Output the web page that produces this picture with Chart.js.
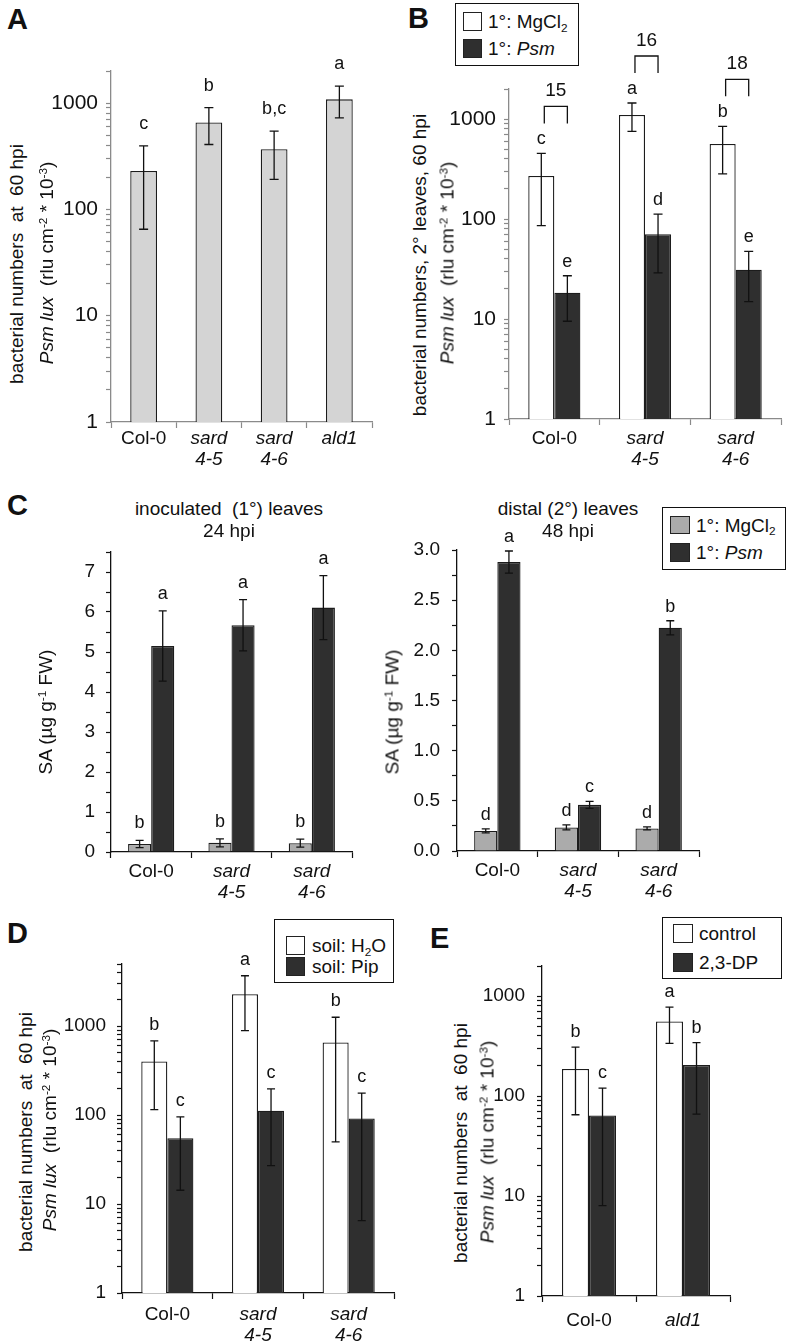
<!DOCTYPE html>
<html><head><meta charset="utf-8">
<script src="https://cdn.jsdelivr.net/npm/chart.js@4.4.1/dist/chart.umd.min.js"></script>
<style>
html,body{margin:0;padding:0;background:#fff;}
body{position:relative;width:789px;height:1344px;overflow:hidden;}
canvas{position:absolute;}
.t{position:absolute;white-space:nowrap;line-height:1;font-family:"Liberation Sans",Arial,Helvetica,sans-serif;color:#111;}
.t sup{font-size:0.62em;line-height:0;vertical-align:baseline;position:relative;top:-0.55em;}
.t sub{font-size:0.62em;line-height:0;vertical-align:baseline;position:relative;top:0.3em;}
.lg{position:absolute;border:1.5px solid #111;box-sizing:border-box;background:#fff;}
.sw{position:absolute;border:1.2px solid #222;box-sizing:border-box;}
</style></head>
<body>
<script>
// ---------------- DATA ----------------
const catsA = ['Col-0', ['sard','4-5'], ['sard','4-6'], 'ald1'];
const valsA = [230, 655, 368, 1083];
const sdA = [165, 248, 177, 358];
const lettersA = ['c','b','b,c','a'];

const catsB = ['Col-0', ['sard','4-5'], ['sard','4-6']];
const valsBMg = [270, 1100, 565];
const sdBMg = [184, 348, 282];
const lettersBMg = ['c','a','b'];
const valsBPsm = [18.3, 70.5, 31.2];
const sdBPsm = [8.8, 41.5, 16.3];
const lettersBPsm = ['e','d','e'];
const foldB = ['15','16','18'];

const catsC = ['Col-0', ['sard','4-5'], ['sard','4-6']];
const valsC1Mg = [0.2, 0.23, 0.22];
const sdC1Mg = [0.09, 0.1, 0.1];
const lettersC1Mg = ['b','b','b'];
const valsC1Psm = [5.15, 5.67, 6.11];
const sdC1Psm = [0.88, 0.64, 0.8];
const lettersC1Psm = ['a','a','a'];
const valsC2Mg = [0.2, 0.235, 0.225];
const sdC2Mg = [0.02, 0.025, 0.015];
const lettersC2Mg = ['d','d','d'];
const valsC2Psm = [2.88, 0.46, 2.225];
const sdC2Psm = [0.11, 0.035, 0.07];
const lettersC2Psm = ['a','c','b'];

const catsD = ['Col-0', ['sard','4-5'], ['sard','4-6']];
const valsDH2O = [400, 2290, 655];
const sdDH2O = [285, 1398, 605];
const lettersDH2O = ['b','a','b'];
const valsDPip = [55, 112, 91.5];
const sdDPip = [40.7, 85, 85];
const lettersDPip = ['c','c','c'];

const catsE = ['Col-0', 'ald1'];
const valsECtrl = [187, 557];
const sdECtrl = [122, 220];
const lettersECtrl = ['b','a'];
const valsEDP = [64, 204];
const sdEDP = [56, 138];
const lettersEDP = ['c','b'];

const logTickLabels = ['1','10','100','1000'];
const linTickLabelsC1 = ['0','1','2','3','4','5','6','7'];
const linTickLabelsC2 = ['0.0','0.5','1.0','1.5','2.0','2.5','3.0'];

// ---------------- STYLE ----------------
const FONT = '"Liberation Sans", Arial, Helvetica, sans-serif';
const DARK = '#2f2f2f', WHITE = '#ffffff', LIGHT = '#d4d4d4', MID = '#ababab';

function addText(html, x, base, size, opt) {
  opt = opt || {};
  const d = document.createElement('div');
  d.className = 't'; d.innerHTML = html;
  d.style.fontSize = size + 'px';
  d.style.top = (base - 0.8465 * size) + 'px';
  d.style.left = x + 'px';
  if (opt.align === 'center') d.style.transform = 'translateX(-50%)';
  if (opt.bold) d.style.fontWeight = 'bold';
  document.body.appendChild(d);
}
function addVText(html, cx, cy, size) {
  const d = document.createElement('div');
  d.className = 't'; d.innerHTML = html;
  d.style.fontSize = size + 'px';
  d.style.left = cx + 'px'; d.style.top = cy + 'px';
  d.style.transform = 'translate(-50%,-50%) rotate(-90deg)';
  document.body.appendChild(d);
}
function addLegend(box, items) {
  const b = document.createElement('div');
  b.className = 'lg';
  b.style.left = box[0] + 'px'; b.style.top = box[1] + 'px';
  b.style.width = (box[2] - box[0]) + 'px'; b.style.height = (box[3] - box[1]) + 'px';
  document.body.appendChild(b);
  items.forEach(it => {
    const s = document.createElement('div');
    s.className = 'sw';
    s.style.left = it.sw[0] + 'px'; s.style.top = it.sw[1] + 'px';
    s.style.width = it.sw[2] + 'px'; s.style.height = it.sw[3] + 'px';
    s.style.background = it.color;
    document.body.appendChild(s);
    addText(it.html, it.tx, it.sw[1] + it.sw[3] / 2 + 7, 19);
  });
}

function logTicks(max) {
  const out = [];
  for (let p = 1; p <= max; p *= 10) {
    for (let m = 1; m <= 9; m++) { const v = m * p; if (v <= max) out.push(v); }
  }
  return out;
}

const marksPlugin = {
  id: 'marks',
  afterDatasetsDraw(chart) {
    const o = chart.options.plugins.marks;
    const ctx = chart.ctx, ys = chart.scales.y;
    ctx.save();
    ctx.strokeStyle = '#111'; ctx.fillStyle = '#111'; ctx.lineWidth = 1.3;
    ctx.font = '18px ' + FONT; ctx.textAlign = 'center'; ctx.textBaseline = 'alphabetic';
    const tops = [];
    chart.data.datasets.forEach((ds, i) => {
      const meta = chart.getDatasetMeta(i);
      tops[i] = [];
      meta.data.forEach((el, j) => {
        const v = ds.data[j], e = ds.errors[j];
        const top = ys.getPixelForValue(v + e);
        const bot = ys.getPixelForValue(Math.max(v - e, ys.min));
        tops[i][j] = top;
        ctx.beginPath();
        ctx.moveTo(el.x, top); ctx.lineTo(el.x, bot);
        ctx.moveTo(el.x - o.cap, top); ctx.lineTo(el.x + o.cap, top);
        ctx.moveTo(el.x - o.cap, bot); ctx.lineTo(el.x + o.cap, bot);
        ctx.stroke();
        ctx.fillText(ds.letters[j], el.x, top - o.gap);
      });
    });
    if (o.brackets) {
      const m0 = chart.getDatasetMeta(0), m1 = chart.getDatasetMeta(1);
      o.brackets.forEach((lab, j) => {
        const xl = m0.data[j].x + 3, xr = m1.data[j].x;
        const yb = tops[0][j] - 30, yt = yb - 17;
        ctx.beginPath();
        ctx.moveTo(xl, yb); ctx.lineTo(xl, yt); ctx.lineTo(xr, yt); ctx.lineTo(xr, yb);
        ctx.stroke();
        ctx.font = '19px ' + FONT;
        ctx.fillText(lab, (xl + xr) / 2, yt - 10);
      });
    }
    ctx.restore();
  }
};

function makePanel(p) {
  const yW = 70, xH = 62, padR = 12;
  const c = document.createElement('canvas');
  const W = p.x1 - p.x0 + yW + padR, H = p.y1 - p.y0 + p.padTop + xH;
  c.width = W; c.height = H;
  c.style.left = (p.x0 - yW) + 'px'; c.style.top = (p.y0 - p.padTop) + 'px';
  c.style.width = W + 'px'; c.style.height = H + 'px';
  document.body.appendChild(c);
  let yScale;
  const axisCommon = {
    grid: { drawOnChartArea: false, drawTicks: true, tickLength: 5, color: p.axis, tickColor: p.axis, tickWidth: 1.2 },
    border: { display: true, color: p.axis, width: 1.3 },
    afterFit: s => { s.width = yW; }
  };
  if (p.log) {
    yScale = Object.assign({}, axisCommon, {
      type: 'logarithmic', min: 1, max: p.max,
      ticks: { autoSkip: false, padding: p.yPad, color: '#111', font: { family: FONT, size: p.yFont },
        callback: v => logTickLabels.includes(String(v)) ? String(v) : '' },
      afterBuildTicks: s => { s.ticks = logTicks(p.max).map(v => ({ value: v })); }
    });
  } else {
    yScale = Object.assign({}, axisCommon, {
      type: 'linear', min: 0, max: p.max,
      ticks: { autoSkip: false, stepSize: p.step, padding: p.yPad, color: '#111', font: { family: FONT, size: p.yFont },
        callback: v => { const s = v.toFixed(p.dec); return (p.labels.includes(s) && Math.abs(parseFloat(s) - v) < 1e-9) ? s : ''; } }
    });
  }
  new Chart(c, {
    type: 'bar',
    data: { labels: p.cats, datasets: p.datasets.map(d => ({
      data: d.data, errors: d.errors, letters: d.letters,
      backgroundColor: d.color, borderColor: '#1c1c1c', borderWidth: 1.3,
      categoryPercentage: p.catPct, barPercentage: p.barPct
    })) },
    options: {
      responsive: false, animation: false, devicePixelRatio: 1,
      layout: { padding: { top: p.padTop, right: padR, left: 0, bottom: 0 } },
      plugins: { legend: { display: false }, tooltip: { enabled: false },
        marks: { cap: p.cap, gap: p.gap, brackets: p.brackets } },
      scales: {
        x: {
          type: 'category', offset: true,
          grid: { offset: true, drawOnChartArea: false, drawTicks: true, tickLength: 6, color: p.axis, tickColor: p.axis, tickWidth: 1.2 },
          border: { display: true, color: p.axis, width: 1.3 },
          ticks: { autoSkip: false, maxRotation: 0, padding: p.xPad, color: '#111',
            font: ctx => ({ family: FONT, size: 19, lineHeight: 1.1,
              style: (p.cats[ctx.index] === 'Col-0') ? 'normal' : 'italic' }) },
          afterFit: s => { s.height = xH; }
        },
        y: yScale
      }
    },
    plugins: [marksPlugin]
  });
}

// ---------------- PANELS ----------------
makePanel({ x0: 111, x1: 372, y0: 71, y1: 422, padTop: 50, log: true, max: 2000, axis: '#8a8a8a',
  yFont: 21, yPad: 8, xPad: 0, cap: 4.5, gap: 17, catPct: 1, barPct: 0.41, cats: catsA,
  datasets: [{ data: valsA, errors: sdA, letters: lettersA, color: LIGHT }] });

makePanel({ x0: 509, x1: 781, y0: 89, y1: 419, padTop: 89, log: true, max: 2000, axis: '#8a8a8a',
  yFont: 21, yPad: 8, xPad: 3, cap: 4.5, gap: 9, catPct: 0.575, barPct: 1, cats: catsB, brackets: foldB,
  datasets: [{ data: valsBMg, errors: sdBMg, letters: lettersBMg, color: WHITE },
             { data: valsBPsm, errors: sdBPsm, letters: lettersBPsm, color: DARK }] });

makePanel({ x0: 111, x1: 352, y0: 552, y1: 852, padTop: 30, log: false, max: 7.5, step: 0.5, dec: 0, labels: linTickLabelsC1,
  axis: '#111', yFont: 19, yPad: 11, xPad: 3, cap: 4, gap: 12, catPct: 0.575, barPct: 1, cats: catsC,
  datasets: [{ data: valsC1Mg, errors: sdC1Mg, letters: lettersC1Mg, color: MID },
             { data: valsC1Psm, errors: sdC1Psm, letters: lettersC1Psm, color: DARK }] });

makePanel({ x0: 457, x1: 699, y0: 550, y1: 851, padTop: 30, log: false, max: 3, step: 0.25, dec: 1, labels: linTickLabelsC2,
  axis: '#111', yFont: 19, yPad: 12, xPad: 3, cap: 4, gap: 9, catPct: 0.575, barPct: 1, cats: catsC,
  datasets: [{ data: valsC2Mg, errors: sdC2Mg, letters: lettersC2Mg, color: MID },
             { data: valsC2Psm, errors: sdC2Psm, letters: lettersC2Psm, color: DARK }] });

makePanel({ x0: 122, x1: 394, y0: 964, y1: 1293, padTop: 50, log: true, max: 5000, axis: '#111',
  yFont: 19, yPad: 11, xPad: 5, cap: 4, gap: 11, catPct: 0.575, barPct: 1, cats: catsD,
  datasets: [{ data: valsDH2O, errors: sdDH2O, letters: lettersDH2O, color: WHITE },
             { data: valsDPip, errors: sdDPip, letters: lettersDPip, color: DARK }] });

makePanel({ x0: 542, x1: 730, y0: 966, y1: 1296, padTop: 50, log: true, max: 2000, axis: '#111',
  yFont: 19, yPad: 12, xPad: 8, cap: 4, gap: 10, catPct: 0.575, barPct: 1, cats: catsE,
  datasets: [{ data: valsECtrl, errors: sdECtrl, letters: lettersECtrl, color: WHITE },
             { data: valsEDP, errors: sdEDP, letters: lettersEDP, color: DARK }] });

// ---------------- TEXT OVERLAYS ----------------
addText('A', 7, 29.5, 29, { bold: true });
addText('B', 408, 28.5, 29, { bold: true });
addText('C', 7, 515.5, 29, { bold: true });
addText('D', 7, 944, 29, { bold: true });
addText('E', 430, 949, 29, { bold: true });

const yt1 = 'bacterial numbers&nbsp; at&nbsp; 60 hpi';
const yt2 = '<i>Psm lux</i>&nbsp; (rlu cm<sup>-2</sup> * 10<sup>-3</sup>)';
addVText(yt1, 15.5, 264, 19); addVText(yt2, 46, 263, 19);
addVText('bacterial numbers, 2° leaves, 60 hpi', 418.5, 265, 19); addVText(yt2, 446.5, 263, 19);
addVText('SA (µg g<sup>-1</sup> FW)', 45, 712, 19);
addVText('SA (µg g<sup>-1</sup> FW)', 392, 712, 19);
addVText(yt1, 25, 1132, 19); addVText(yt2, 49, 1130, 19);
addVText(yt1, 459.5, 1143, 19); addVText(yt2, 486.5, 1142, 19);

addText('inoculated&nbsp; (1°) leaves', 229, 515, 19, { align: 'center' });
addText('24 hpi', 229, 537, 19, { align: 'center' });
addText('distal (2°) leaves', 568, 515, 19, { align: 'center' });
addText('48 hpi', 568, 537, 19, { align: 'center' });

addLegend([455, 3, 579, 66], [
  { sw: [463, 12, 19, 19], color: WHITE, tx: 488, html: '1°: MgCl<sub>2</sub>' },
  { sw: [463, 39, 19, 19], color: DARK, tx: 488, html: '1°: <i>Psm</i>' }]);
addLegend([662, 507, 786, 570], [
  { sw: [670, 516, 20, 18], color: MID, tx: 696, html: '1°: MgCl<sub>2</sub>' },
  { sw: [670, 543, 20, 19], color: DARK, tx: 696, html: '1°: <i>Psm</i>' }]);
addLegend([274, 919, 394, 983], [
  { sw: [286, 936, 19, 19], color: WHITE, tx: 312, html: 'soil: H<sub>2</sub>O' },
  { sw: [286, 957, 19, 19], color: DARK, tx: 312, html: 'soil: Pip' }]);
addLegend([662, 917, 782, 979], [
  { sw: [673, 924, 20, 19], color: WHITE, tx: 699, html: 'control' },
  { sw: [673, 953, 20, 19], color: DARK, tx: 699, html: '2,3-DP' }]);
</script>
</body></html>
